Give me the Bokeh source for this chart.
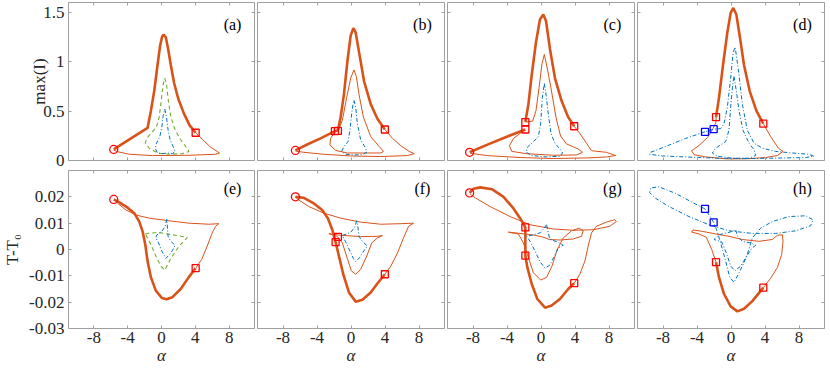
from bokeh.plotting import figure
from bokeh.models import Range1d, LinearAxis, FixedTicker, Label
from bokeh.layouts import gridplot
from bokeh.embed import file_html
from bokeh.resources import INLINE

# ---------------- data ----------------
X_TICKS = [-8, -4, 0, 4, 8]
X_TICK_LABELS = ["-8", "-4", "0", "4", "8"]
TOP_TICKS = [0, 0.5, 1, 1.5]
TOP_TICK_LABELS = ["0", "0.5", "1", "1.5"]
BOT_TICKS = [-0.03, -0.02, -0.01, 0, 0.01, 0.02]
BOT_TICK_LABELS = ["-0.03", "-0.02", "-0.01", "0", "0.01", "0.02"]
PANEL_LABELS = ["(a)", "(b)", "(c)", "(d)", "(e)", "(f)", "(g)", "(h)"]

# panel (a)
A_THICK_X = [-5.65, -1.65, -1.25, -0.86, -0.47, -0.16, 0.08, 0.27, 0.51, 0.78, 1.10, 1.49, 2.0, 2.67, 3.33, 4.04]
A_THICK_Y = [0.112, 0.330, 0.505, 0.703, 0.967, 1.165, 1.257, 1.274, 1.248, 1.132, 0.967, 0.785, 0.620, 0.472, 0.356, 0.281]
A_THIN_X = [4.04, 4.82, 5.8, 6.59, 6.86, 6.39, 3.25, -1.06, -3.8, -5.18, -5.65]
A_THIN_Y = [0.281, 0.215, 0.135, 0.092, 0.076, 0.063, 0.053, 0.05, 0.063, 0.089, 0.106]
A_GREEN_X = [0.39, 0.59, 0.82, 1.10, 1.61, 2.27, 3.0, 3.25, 2.47, 0.9, -0.47, -1.45, -1.92, -1.76, -1.25, -0.59, -0.27, -0.04, 0.2, 0.39]
A_GREEN_Y = [0.835, 0.77, 0.60, 0.44, 0.31, 0.21, 0.125, 0.092, 0.069, 0.063, 0.076, 0.125, 0.175, 0.224, 0.274, 0.34, 0.44, 0.60, 0.77, 0.835]
A_BLUE_X = [0.39, 0.59, 0.78, 1.02, 1.37, 1.61, 1.29, 0.71, 0.12, -0.47, -0.75, -0.59, -0.2, 0.04, 0.2, 0.39]
A_BLUE_Y = [0.521, 0.44, 0.307, 0.208, 0.142, 0.092, 0.069, 0.076, 0.069, 0.076, 0.125, 0.175, 0.241, 0.34, 0.455, 0.521]
A_CIRCLE_X, A_CIRCLE_Y = [-5.65], [0.112]
A_RED_SQ_X, A_RED_SQ_Y = [4.04], [0.281]

# panel (b)
B_THICK_X = [-6.54, -5.16, -3.58, -1.89, -1.54, -1.22, -0.83, -0.43, -0.04, 0.28, 0.55, 0.94, 1.54, 2.32, 3.11, 3.98]
B_THICK_Y = [0.102, 0.162, 0.224, 0.297, 0.307, 0.439, 0.67, 1.0, 1.264, 1.34, 1.297, 1.1, 0.802, 0.571, 0.422, 0.314]
B_THIN_X = [3.98, 4.88, 5.87, 6.85, 7.44, 6.65, 3.5, -0.04, -3.19, -5.55, -6.54]
B_THIN_Y = [0.314, 0.224, 0.149, 0.092, 0.069, 0.05, 0.04, 0.046, 0.063, 0.083, 0.096]
B_THIN2_X = [-1.54, -1.02, -0.51, -0.04, 0.35, 0.63, 0.94, 1.46, 2.32, 3.31, 3.82, 3.5, 1.93, -0.43, -1.81, -2.48, -2.4, -1.89]
B_THIN2_Y = [0.297, 0.406, 0.637, 0.835, 0.917, 0.851, 0.67, 0.439, 0.241, 0.142, 0.092, 0.076, 0.076, 0.076, 0.102, 0.158, 0.224, 0.29]
B_BLUE_X = [0.35, 0.55, 0.75, 1.14, 1.73, 1.85, 1.34, 0.35, -0.63, -1.1, -0.83, -0.35, -0.12, 0.08, 0.24, 0.35]
B_BLUE_Y = [0.611, 0.538, 0.373, 0.208, 0.125, 0.083, 0.059, 0.056, 0.063, 0.092, 0.142, 0.191, 0.307, 0.472, 0.571, 0.611]
B_CIRCLE_X, B_CIRCLE_Y = [-6.54], [0.102]
B_RED_SQ_X, B_RED_SQ_Y = [-1.89, -1.54, 3.98], [0.297, 0.300, 0.314]

# panel (c)
C_THICK_X = [-8.4, -6.37, -4.02, -1.84]
C_THICK_Y = [0.083, 0.158, 0.241, 0.314]
C_THICK2_X = [-1.84, -1.48, -1.09, -0.59, -0.12, 0.27, 0.59, 1.05, 1.64, 2.42, 3.2, 3.91]
C_THICK2_Y = [0.389, 0.571, 0.868, 1.198, 1.429, 1.479, 1.413, 1.132, 0.835, 0.604, 0.439, 0.347]
C_THIN_X = [3.91, 4.57, 5.35, 5.94, 7.7, 8.79, 7.7, 5.35, 1.45, -2.46, -6.37, -8.32]
C_THIN_Y = [0.347, 0.274, 0.175, 0.099, 0.083, 0.05, 0.036, 0.026, 0.02, 0.03, 0.05, 0.073]
C_THIN2_X = [-1.84, -2.46, -3.24, -3.71, -3.44, -1.68, 1.45, 4.18, 4.88, 4.38, 3.0, 2.3, 1.76, 1.17, 0.66, 0.39, 0.12, -0.23, -0.59, -0.98, -1.84]
C_THIN2_Y = [0.314, 0.274, 0.224, 0.149, 0.092, 0.069, 0.053, 0.056, 0.083, 0.116, 0.168, 0.248, 0.439, 0.736, 0.967, 1.073, 0.983, 0.736, 0.505, 0.399, 0.389]
C_BLUE_X = [0.39, 0.59, 0.86, 1.17, 1.64, 2.3, 2.54, 2.23, 0.66, -1.09, -1.76, -1.6, -0.9, -0.31, -0.04, 0.16, 0.39]
C_BLUE_Y = [0.779, 0.67, 0.472, 0.274, 0.175, 0.109, 0.076, 0.043, 0.036, 0.05, 0.083, 0.135, 0.191, 0.241, 0.373, 0.637, 0.779]
C_CIRCLE_X, C_CIRCLE_Y = [-8.4], [0.083]
C_RED_SQ_X, C_RED_SQ_Y = [-1.84, -1.84, 3.91], [0.314, 0.389, 0.347]

# panel (d)
D_THICK_X = [-1.76, -1.41, -0.94, -0.43, -0.04, 0.27, 0.63, 1.02, 1.53, 2.2, 2.98, 3.8]
D_THICK_Y = [0.439, 0.637, 0.967, 1.297, 1.495, 1.545, 1.479, 1.264, 0.967, 0.703, 0.505, 0.373]
D_THIN_X = [3.8, 4.67, 5.57, 6.12, 5.45, 4.08, 1.73, -0.63, -2.98, -4.35, -4.63, -3.76, -2.78, -2.12, -1.76, -1.76]
D_THIN_Y = [0.373, 0.241, 0.125, 0.092, 0.05, 0.03, 0.017, 0.017, 0.036, 0.059, 0.099, 0.152, 0.231, 0.323, 0.389, 0.439]
D_BLUE_X = [-3.06, -5.33, -7.69, -9.45, -9.57, -8.08, -5.33, -1.41, 2.51, 6.43, 8.78, 9.76, 9.18, 7.22, 5.25, 3.69, 2.71, 1.92, 1.33, 0.94, 0.63, 0.47, 0.24, -0.04, -0.43, -0.82, -1.22, -2.04, -3.06]
D_BLUE_Y = [0.29, 0.224, 0.142, 0.083, 0.063, 0.046, 0.036, 0.023, 0.02, 0.026, 0.03, 0.043, 0.063, 0.076, 0.092, 0.125, 0.175, 0.307, 0.571, 0.868, 1.066, 1.149, 1.083, 0.835, 0.538, 0.373, 0.323, 0.317, 0.29]
D_BLUE2_X = [0.35, 0.63, 0.94, 1.41, 2.12, 2.71, 2.9, 2.12, 0.16, -1.61, -2.2, -1.8, -0.63, -0.24, -0.04, 0.16, 0.35]
D_BLUE2_Y = [0.851, 0.703, 0.505, 0.307, 0.175, 0.109, 0.05, 0.023, 0.023, 0.043, 0.076, 0.125, 0.191, 0.307, 0.538, 0.736, 0.851]
D_RED_SQ_X, D_RED_SQ_Y = [-1.76, 3.8], [0.439, 0.373]
D_BLUE_SQ_X, D_BLUE_SQ_Y = [-3.06, -2.04], [0.29, 0.317]

# panel (e)
E_THICK_X = [-5.65, -4.98, -4.0, -3.22, -2.63, -2.24, -1.92, -1.65, -1.25, -0.67, 0.04, 0.59, 1.29, 2.27, 3.25, 4.04]
E_THICK_Y = [0.0190, 0.0179, 0.0159, 0.0138, 0.0106, 0.0069, 0.0019, -0.0044, -0.0106, -0.0156, -0.0184, -0.0189, -0.0181, -0.0150, -0.0104, -0.0071]
E_THIN_X = [4.04, 4.75, 5.41, 6.0, 6.39, 6.78, 5.61, 3.25, 0.9, -1.45, -3.02, -4.2, -5.18, -5.57]
E_THIN_Y = [-0.0071, -0.0038, 0.0013, 0.0063, 0.0088, 0.0098, 0.0096, 0.0100, 0.0109, 0.0119, 0.0131, 0.0150, 0.0175, 0.0188]
E_BLUE_X = [0.63, 0.43, 0.04, -0.59, -0.67, -0.35, 0.04, 0.51, 0.9, 1.29, 1.61, 1.1, 0.78, 0.71, 0.63]
E_BLUE_Y = [0.0115, 0.0088, 0.0069, 0.0054, 0.0044, 0.0025, -0.0006, -0.0034, -0.0021, -0.0004, 0.0016, 0.0031, 0.005, 0.0081, 0.0115]
E_GREEN_X = [-1.92, -0.47, 1.29, 3.06, 2.08, 1.1, 0.39, -0.08, -0.67, -1.25, -1.76, -1.92]
E_GREEN_Y = [0.006, 0.0065, 0.0056, 0.0046, 0.0013, -0.0034, -0.0078, -0.0063, -0.0025, 0.0019, 0.005, 0.006]
E_CIRCLE_X, E_CIRCLE_Y = [-5.65], [0.019]
E_RED_SQ_X, E_RED_SQ_Y = [4.04], [-0.0071]

# panel (f)
F_THICK_X = [-6.54, -5.55, -4.37, -3.39, -2.72, -2.2, -1.81, -1.42, -0.91, -0.24, 0.55, 1.34, 2.32, 3.11, 3.98]
F_THICK_Y = [0.020, 0.0196, 0.0175, 0.015, 0.0119, 0.0075, 0.0028, -0.0025, -0.0094, -0.0163, -0.0198, -0.0191, -0.0163, -0.0129, -0.0094]
F_THIN_X = [3.98, 4.69, 5.47, 6.18, 6.77, 7.36, 5.87, 3.5, 1.14, -1.22, -3.19, -4.96, -6.14, -6.54]
F_THIN_Y = [-0.0094, -0.0063, -0.0013, 0.0044, 0.0088, 0.010, 0.0098, 0.0096, 0.0104, 0.0119, 0.0138, 0.0163, 0.0188, 0.0198]
F_THIN2_X = [-2.6, -1.22, 1.14, 3.11, 3.7, 3.11, 2.44, 1.85, 1.14, 0.55, 0.04, -0.43, -1.02, -1.61, -2.6]
F_THIN2_Y = [0.006, 0.0054, 0.0049, 0.005, 0.0053, 0.0044, 0.0025, -0.0025, -0.0075, -0.0094, -0.0081, -0.0034, 0.0025, 0.005, 0.006]
F_BLUE_X = [0.67, 0.43, -0.04, -1.02, -0.63, -0.12, 0.28, 0.55, 1.06, 1.61, 1.93, 1.34, 0.94, 0.83, 0.67]
F_BLUE_Y = [0.0109, 0.0084, 0.0065, 0.0053, 0.0029, -0.0006, -0.0034, -0.0046, -0.0029, 0.0, 0.0013, 0.0031, 0.005, 0.0081, 0.0109]
F_CIRCLE_X, F_CIRCLE_Y = [-6.54], [0.020]
F_RED_SQ_X, F_RED_SQ_Y = [-1.81, -1.54, 3.98], [0.0028, 0.0048, -0.0094]

# panel (g)
G_THICK_X = [-8.4, -7.93, -7.15, -5.78, -4.41, -3.24, -2.46, -1.84, -1.84, -1.84, -1.6, -1.09, -0.43, 0.47, 1.25, 2.23, 3.2, 3.91]
G_THICK_Y = [0.0215, 0.0231, 0.0236, 0.0229, 0.020, 0.0156, 0.0119, 0.0084, 0.0044, -0.0023, -0.0069, -0.0131, -0.0188, -0.0221, -0.0213, -0.0188, -0.015, -0.0128]
G_THIN_X = [3.91, 4.57, 5.16, 5.55, 5.94, 6.52, 7.7, 8.67, 8.87, 8.09, 6.13, 3.79, 1.45, -1.29, -3.63, -5.98, -7.73, -8.32]
G_THIN_Y = [-0.0128, -0.0094, -0.0044, 0.0013, 0.0063, 0.0088, 0.0104, 0.0113, 0.0106, 0.0088, 0.0075, 0.0073, 0.0078, 0.0094, 0.0125, 0.0163, 0.0196, 0.021]
G_THIN2_X = [-3.83, -2.66, -2.07, -1.48, -0.9, -0.04, 0.66, 1.29, 1.91, 2.62, 3.59, 4.49, 4.96, 4.77, 3.79, 2.23, 0.98, 0.35, -0.7, -2.46, -3.83]
G_THIN2_Y = [0.0066, 0.0059, 0.0025, -0.0031, -0.0088, -0.0116, -0.0106, -0.0063, 0.0, 0.0044, 0.0071, 0.0081, 0.0071, 0.005, 0.004, 0.0036, 0.0038, 0.0046, 0.0054, 0.0061, 0.0066]
G_BLUE_X = [0.66, 0.35, -0.12, -0.9, -1.68, -1.29, -0.7, -0.12, 0.47, 1.05, 1.64, 2.03, 2.62, 1.91, 1.05, 0.86, 0.66]
G_BLUE_Y = [0.0094, 0.0081, 0.0063, 0.0056, 0.005, 0.0031, -0.0006, -0.0046, -0.0071, -0.0059, -0.0021, 0.0006, 0.0016, 0.0029, 0.0038, 0.0063, 0.0094]
G_CIRCLE_X, G_CIRCLE_Y = [-8.4], [0.0215]
G_RED_SQ_X, G_RED_SQ_Y = [-1.84, -1.84, 3.91], [0.0084, -0.0023, -0.0128]

# panel (h)
H_THICK_X = [-1.76, -1.41, -0.82, -0.04, 0.75, 1.53, 2.51, 3.8]
H_THICK_Y = [-0.0048, -0.0106, -0.0169, -0.0216, -0.0235, -0.0225, -0.0196, -0.0145]
H_THIN_X = [3.8, 4.67, 5.45, 5.96, 6.12, 6.04, 5.45, 4.86, 3.29, 1.33, -0.24, -1.8, -3.37, -4.47, -4.63, -3.76, -2.9, -2.27, -1.76]
H_THIN_Y = [-0.0145, -0.0109, -0.0069, -0.0019, 0.0031, 0.0056, 0.0054, 0.0038, 0.0031, 0.0038, 0.005, 0.0059, 0.0069, 0.0074, 0.0066, 0.0059, 0.0046, 0.0, -0.0048]
H_BLUE_X = [-3.06, -4.55, -6.51, -8.47, -9.45, -9.57, -8.86, -7.29, -4.94, -2.59, -0.24, 2.51, 5.25, 7.61, 9.37, 9.65, 8.78, 6.82, 4.86, 3.49, 2.51, 2.04, 1.53, 0.86, 0.35, -0.16, -0.63, -1.22, -1.69, -2.04, -2.59, -3.06]
H_BLUE_Y = [0.0154, 0.0179, 0.0213, 0.0238, 0.0234, 0.0216, 0.0194, 0.0163, 0.0125, 0.0094, 0.0071, 0.0061, 0.0061, 0.0071, 0.009, 0.0113, 0.0128, 0.0125, 0.0106, 0.0081, 0.0044, -0.0006, -0.005, -0.0094, -0.0125, -0.0104, -0.0044, 0.0025, 0.0075, 0.0103, 0.0131, 0.0154]
H_BLUE2_X = [0.55, 0.78, 1.33, 2.31, 2.9, 2.43, 1.8, 1.14, 0.47, -0.04, -0.55, -1.1, -2.0, -1.41, -0.24, 0.55]
H_BLUE2_Y = [0.0074, 0.005, 0.0031, 0.0025, 0.0016, 0.0004, -0.0029, -0.0063, -0.0081, -0.0063, -0.0013, 0.0029, 0.0038, 0.0056, 0.0065, 0.0074]
H_RED_SQ_X, H_RED_SQ_Y = [-1.76, 3.8], [-0.0048, -0.0145]
H_BLUE_SQ_X, H_BLUE_SQ_Y = [-3.06, -2.04], [0.0154, 0.0103]

# ---------------- styling ----------------
ORANGE = "#D95319"
BLUE = "#0072BD"
GREEN = "#77AC30"
RED = "#FF0000"
MARK_BLUE = "#0000FF"
FRAME = "#a0a0a0"
TEXT = "#262626"
FONT = "Liberation Serif"
TICK_FONT_SIZE = "17px"

STYLES = {
    "thin": dict(line_color=ORANGE, line_width=1.0),
    "thick": dict(line_color=ORANGE, line_width=2.6),
    "blue": dict(line_color=BLUE, line_width=1.0, line_dash="4 2 1 2"),
    "green": dict(line_color=GREEN, line_width=1.1, line_dash="4 3"),
}

PANELS = [
    dict(curves=[(A_THIN_X, A_THIN_Y, "thin"), (A_THICK_X, A_THICK_Y, "thick"),
                 (A_GREEN_X, A_GREEN_Y, "green"), (A_BLUE_X, A_BLUE_Y, "blue")],
         circle=(A_CIRCLE_X, A_CIRCLE_Y), red=(A_RED_SQ_X, A_RED_SQ_Y), bsq=None),
    dict(curves=[(B_THIN_X, B_THIN_Y, "thin"), (B_THIN2_X, B_THIN2_Y, "thin"),
                 (B_THICK_X, B_THICK_Y, "thick"), (B_BLUE_X, B_BLUE_Y, "blue")],
         circle=(B_CIRCLE_X, B_CIRCLE_Y), red=(B_RED_SQ_X, B_RED_SQ_Y), bsq=None),
    dict(curves=[(C_THIN_X, C_THIN_Y, "thin"), (C_THIN2_X, C_THIN2_Y, "thin"),
                 (C_THICK_X, C_THICK_Y, "thick"), (C_THICK2_X, C_THICK2_Y, "thick"),
                 (C_BLUE_X, C_BLUE_Y, "blue")],
         circle=(C_CIRCLE_X, C_CIRCLE_Y), red=(C_RED_SQ_X, C_RED_SQ_Y), bsq=None),
    dict(curves=[(D_THIN_X, D_THIN_Y, "thin"), (D_THICK_X, D_THICK_Y, "thick"),
                 (D_BLUE_X, D_BLUE_Y, "blue"), (D_BLUE2_X, D_BLUE2_Y, "blue")],
         circle=None, red=(D_RED_SQ_X, D_RED_SQ_Y), bsq=(D_BLUE_SQ_X, D_BLUE_SQ_Y)),
    dict(curves=[(E_THIN_X, E_THIN_Y, "thin"), (E_THICK_X, E_THICK_Y, "thick"),
                 (E_GREEN_X, E_GREEN_Y, "green"), (E_BLUE_X, E_BLUE_Y, "blue")],
         circle=(E_CIRCLE_X, E_CIRCLE_Y), red=(E_RED_SQ_X, E_RED_SQ_Y), bsq=None),
    dict(curves=[(F_THIN_X, F_THIN_Y, "thin"), (F_THIN2_X, F_THIN2_Y, "thin"),
                 (F_THICK_X, F_THICK_Y, "thick"), (F_BLUE_X, F_BLUE_Y, "blue")],
         circle=(F_CIRCLE_X, F_CIRCLE_Y), red=(F_RED_SQ_X, F_RED_SQ_Y), bsq=None),
    dict(curves=[(G_THIN_X, G_THIN_Y, "thin"), (G_THIN2_X, G_THIN2_Y, "thin"),
                 (G_THICK_X, G_THICK_Y, "thick"), (G_BLUE_X, G_BLUE_Y, "blue")],
         circle=(G_CIRCLE_X, G_CIRCLE_Y), red=(G_RED_SQ_X, G_RED_SQ_Y), bsq=None),
    dict(curves=[(H_THIN_X, H_THIN_Y, "thin"), (H_THICK_X, H_THICK_Y, "thick"),
                 (H_BLUE_X, H_BLUE_Y, "blue"), (H_BLUE2_X, H_BLUE2_Y, "blue")],
         circle=None, red=(H_RED_SQ_X, H_RED_SQ_Y), bsq=(H_BLUE_SQ_X, H_BLUE_SQ_Y)),
]


def style_axis(ax, ticks, labels=None):
    ax.ticker = FixedTicker(ticks=ticks)
    ax.major_tick_in = 3
    ax.major_tick_out = 0
    ax.minor_tick_line_color = None
    ax.axis_line_color = None
    ax.major_tick_line_color = FRAME
    if labels is not None:
        ax.major_label_overrides = {t: s for t, s in zip(ticks, labels)}
        ax.major_label_text_font = FONT
        ax.major_label_text_font_size = TICK_FONT_SIZE
        ax.major_label_text_color = TEXT
    else:
        ax.major_label_text_font_size = "0px"
        ax.major_label_standoff = 0


# layout
LEFT_BORDER = 67
FRAME_W = 187
TOP_BORDER = 2
TOP_FRAME_H = 158
ROW_GAP = 10
BOT_FRAME_H = 158
BOTTOM_BORDER = 41
Y_STANDOFF = 4

figs = []
for i, pan in enumerate(PANELS):
    row, col = divmod(i, 4)
    top = row == 0
    yr = (0, 1.6) if top else (-0.03, 0.03)
    yt = TOP_TICKS if top else BOT_TICKS
    ytl = TOP_TICK_LABELS if top else BOT_TICK_LABELS
    bl = LEFT_BORDER if col == 0 else 2
    bt = TOP_BORDER if top else 0
    bb = ROW_GAP if top else BOTTOM_BORDER
    fh = TOP_FRAME_H if top else BOT_FRAME_H
    p = figure(width=bl + FRAME_W + 1, height=bt + fh + bb,
               x_range=Range1d(-11, 11), y_range=Range1d(*yr),
               output_backend="svg", toolbar_location=None,
               min_border_left=bl, min_border_right=1,
               min_border_top=bt, min_border_bottom=bb,
               background_fill_color="white", border_fill_color="white")
    p.outline_line_color = FRAME
    p.outline_line_width = 1
    p.xgrid.visible = False
    p.ygrid.visible = False

    style_axis(p.xaxis[0], X_TICKS, None if top else X_TICK_LABELS)
    style_axis(p.yaxis[0], yt, ytl if col == 0 else None)
    if not top:
        p.xaxis[0].major_label_standoff = 3
        p.xaxis[0].axis_label = "α"
        p.xaxis[0].axis_label_text_font = FONT
        p.xaxis[0].axis_label_text_font_style = "italic"
        p.xaxis[0].axis_label_text_font_size = "17px"
        p.xaxis[0].axis_label_text_color = TEXT
        p.xaxis[0].axis_label_standoff = 0
    if col == 0:
        p.yaxis[0].major_label_standoff = Y_STANDOFF
        p.yaxis[0].axis_label = "max(I)" if top else "T-T₀"
        p.yaxis[0].axis_label_text_font = FONT
        p.yaxis[0].axis_label_text_font_style = "normal"
        p.yaxis[0].axis_label_text_font_size = "17px"
        p.yaxis[0].axis_label_text_color = TEXT
        p.yaxis[0].axis_label_standoff = -9 if top else 4

    ax_top = LinearAxis()
    style_axis(ax_top, X_TICKS, None)
    p.add_layout(ax_top, "above")
    ax_right = LinearAxis()
    style_axis(ax_right, yt, None)
    p.add_layout(ax_right, "right")

    for xs, ys, kind in pan["curves"]:
        p.line(xs, ys, **STYLES[kind])
    if pan["circle"] is not None:
        p.scatter(pan["circle"][0], pan["circle"][1], marker="circle", size=8,
                  fill_color=None, line_color=RED, line_width=1.3)
    if pan["red"] is not None:
        p.scatter(pan["red"][0], pan["red"][1], marker="square", size=7,
                  fill_color=None, line_color=RED, line_width=1.3)
    if pan["bsq"] is not None:
        p.scatter(pan["bsq"][0], pan["bsq"][1], marker="square", size=7,
                  fill_color=None, line_color=MARK_BLUE, line_width=1.3)

    p.add_layout(Label(x=8.4, y=1.38 if top else 0.023, text=PANEL_LABELS[i],
                       text_font=FONT, text_font_size="16px", text_color="black",
                       text_align="center", text_baseline="middle"))
    figs.append(p)

grid = gridplot([figs[:4], figs[4:]], toolbar_location=None)
open("out.html", "w").write(file_html(grid, INLINE))
